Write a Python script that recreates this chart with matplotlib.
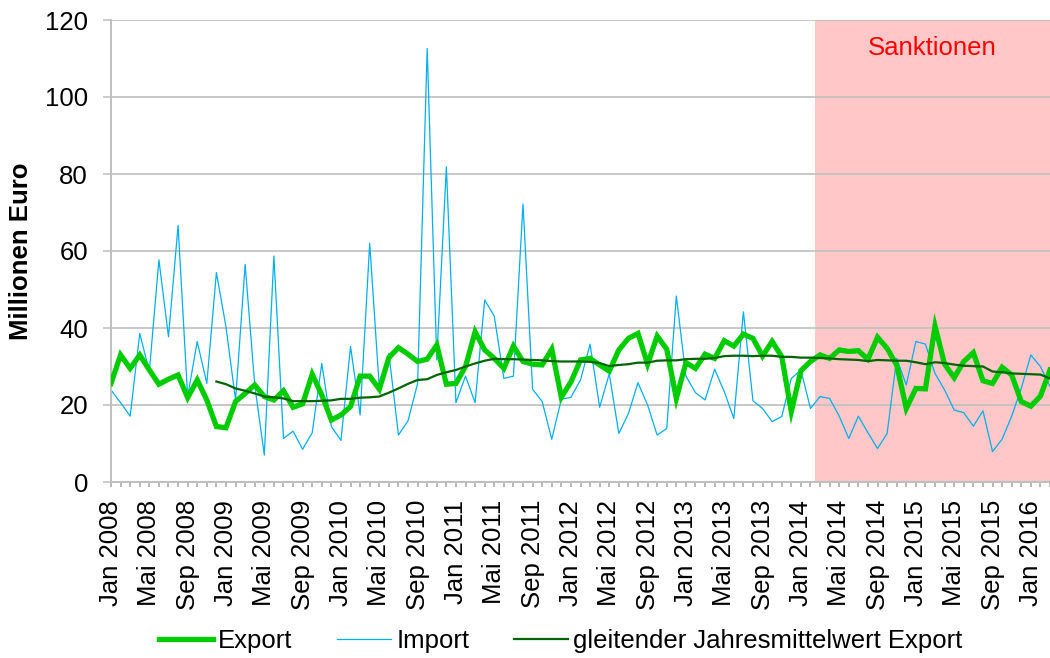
import matplotlib
matplotlib.use("Agg")
import matplotlib.pyplot as plt
from matplotlib.ticker import MultipleLocator, FixedLocator

plt.rcParams["font.family"] = ["Liberation Sans", "DejaVu Sans"]

# Monatswerte Jan 2008 .. Mrz 2016 (Millionen Euro)
export_vals = [
    25.6, 33.0, 29.5, 33.0, 29.1, 25.4, 26.7, 27.8, 21.9, 26.5, 21.3, 14.4,
    14.1, 20.9, 23.0, 25.2, 22.2, 21.3, 23.7, 19.4, 20.3, 28.0, 22.6, 16.1,
    17.4, 19.6, 27.5, 27.5, 24.1, 32.3, 34.9, 33.2, 31.3, 31.9, 35.6, 25.4,
    25.6, 30.0, 39.0, 34.3, 32.1, 29.5, 35.3, 31.3, 30.6, 30.4, 34.5, 22.0,
    26.0, 31.7, 32.1, 30.4, 28.8, 34.3, 37.3, 38.6, 30.6, 37.9, 34.5, 21.7,
    31.0, 29.5, 33.2, 32.1, 36.7, 35.3, 38.4, 37.3, 32.7, 36.5, 32.6, 18.3,
    28.9, 31.3, 33.0, 32.1, 34.3, 33.9, 34.1, 31.9, 37.6, 34.7, 30.4, 19.1,
    24.3, 24.2, 40.5, 30.6, 27.1, 31.3, 33.6, 26.3, 25.6, 29.8, 27.8, 20.9,
    19.7, 22.3, 29.1,
]
import_vals = [
    23.9, 20.6, 17.1, 38.6, 28.7, 57.7, 37.7, 66.6, 22.2, 36.5, 25.6, 54.4,
    40.3, 21.3, 56.5, 25.2, 7.0, 58.7, 11.3, 13.2, 8.5, 12.8, 30.8, 14.4,
    10.8, 35.2, 17.4, 62.0, 24.6, 33.4, 12.2, 15.9, 25.6, 112.6, 31.7, 81.9,
    20.6, 27.5, 20.6, 47.3, 43.1, 26.9, 27.5, 72.2, 24.1, 20.9, 11.1, 21.5,
    22.0, 26.5, 35.8, 19.4, 28.1, 12.6, 17.8, 25.8, 20.0, 12.2, 13.9, 48.3,
    27.5, 23.2, 21.3, 29.3, 23.5, 16.5, 44.2, 21.1, 19.1, 15.7, 17.0, 26.9,
    29.1, 19.1, 22.2, 21.7, 17.1, 11.3, 17.1, 12.8, 8.7, 12.6, 32.1, 25.2,
    36.5, 35.8, 28.2, 23.9, 18.7, 18.0, 14.5, 18.5, 7.9, 11.1, 17.1, 24.3,
    33.0, 30.0, 24.8,
]
# gleitender Jahresmittelwert, ab Dez 2008
ma_start = 11
ma_vals = [
    26.1, 25.4, 24.3, 23.7, 23.0, 22.2, 22.0, 21.7, 21.0, 21.0, 21.0, 21.1,
    21.2, 21.6, 21.6, 21.9, 22.0, 22.2, 23.2, 24.3, 25.5, 26.5, 26.7, 27.8,
    28.5, 29.1, 30.0, 30.8, 31.5, 32.0, 31.9, 31.9, 31.8, 31.7, 31.6, 31.4,
    31.3, 31.3, 31.3, 31.2, 30.9, 30.1, 30.4, 30.6, 31.0, 31.0, 31.5, 31.6,
    31.6, 31.9, 32.0, 32.0, 32.2, 32.7, 32.8, 32.8, 32.7, 32.8, 32.8, 32.5,
    32.5, 32.3, 32.3, 32.2, 32.1, 31.9, 31.8, 31.7, 31.4, 31.7, 31.6, 31.5,
    31.5, 31.1, 30.6, 31.1, 30.9, 30.5, 30.2, 30.1, 30.0, 28.7, 28.5, 28.2,
    28.1, 28.0, 27.9, 26.9,
]

label_years = list(range(2008, 2017))
label_months = ["Jan", "Mai", "Sep"]
tick_labels = [f"{m} {y}" for y in label_years for m in label_months][:25]

sanction_start = 73.5  # ab Mrz 2014

months = list(range(len(export_vals)))
ma_x = list(range(ma_start, ma_start + len(ma_vals)))

fig = plt.figure(figsize=(10.5, 6.58), dpi=100)
ax = fig.add_axes([111 / 1050, 176 / 658, 939 / 1050, 462 / 658])

ax.axvspan(sanction_start, months[-1], color="#FFC7C7", lw=0, zorder=0.2)
ax.text(85.7, 112.7, "Sanktionen", color="#FF0000", fontsize=18.5,
        ha="center", va="center")

l_exp, = ax.plot(months, export_vals, color="#00CC00", lw=3.8,
                 solid_joinstyle="miter", zorder=3, label="Export")
l_imp, = ax.plot(months, import_vals, color="#00B0F0", lw=0.9,
                 zorder=2, label="Import")
l_ma, = ax.plot(ma_x, ma_vals, color="#006400", lw=1.6, zorder=4,
                label="gleitender Jahresmittelwert Export")

ax.set_xlim(0, months[-1])
ax.set_ylim(0, 120)
ax.set_axisbelow(True)

ax.yaxis.set_major_locator(MultipleLocator(20))
ax.grid(axis="y", color="#BFBFBF", lw=1.2)

ax.xaxis.set_major_locator(FixedLocator(range(0, len(months), 4)))
ax.xaxis.set_minor_locator(FixedLocator(months))
ax.set_xticklabels(tick_labels, rotation=90)

ax.tick_params(axis="x", which="both", length=3.8, width=1.1, color="#A6A6A6",
               labelsize=18.5, pad=9)
ax.tick_params(axis="y", length=5.5, width=1.1, color="#BFBFBF",
               labelsize=18.5, pad=11)

for side in ["top", "right"]:
    ax.spines[side].set_visible(False)
for side in ["left", "bottom"]:
    ax.spines[side].set_color("#BFBFBF")
    ax.spines[side].set_linewidth(1.4)

ax.set_ylabel("Millionen Euro", fontsize=18.5, fontweight="bold")
ax.yaxis.set_label_coords(-0.083, 0.5)

fig.legend(handles=[l_exp, l_imp, l_ma], loc="center",
           bbox_to_anchor=(0.534, 0.026), ncol=3, frameon=False,
           fontsize=18.5, handlelength=2.1, handletextpad=0.2,
           columnspacing=1.75, borderpad=0, borderaxespad=0)

plt.savefig("out.png", dpi=100)
